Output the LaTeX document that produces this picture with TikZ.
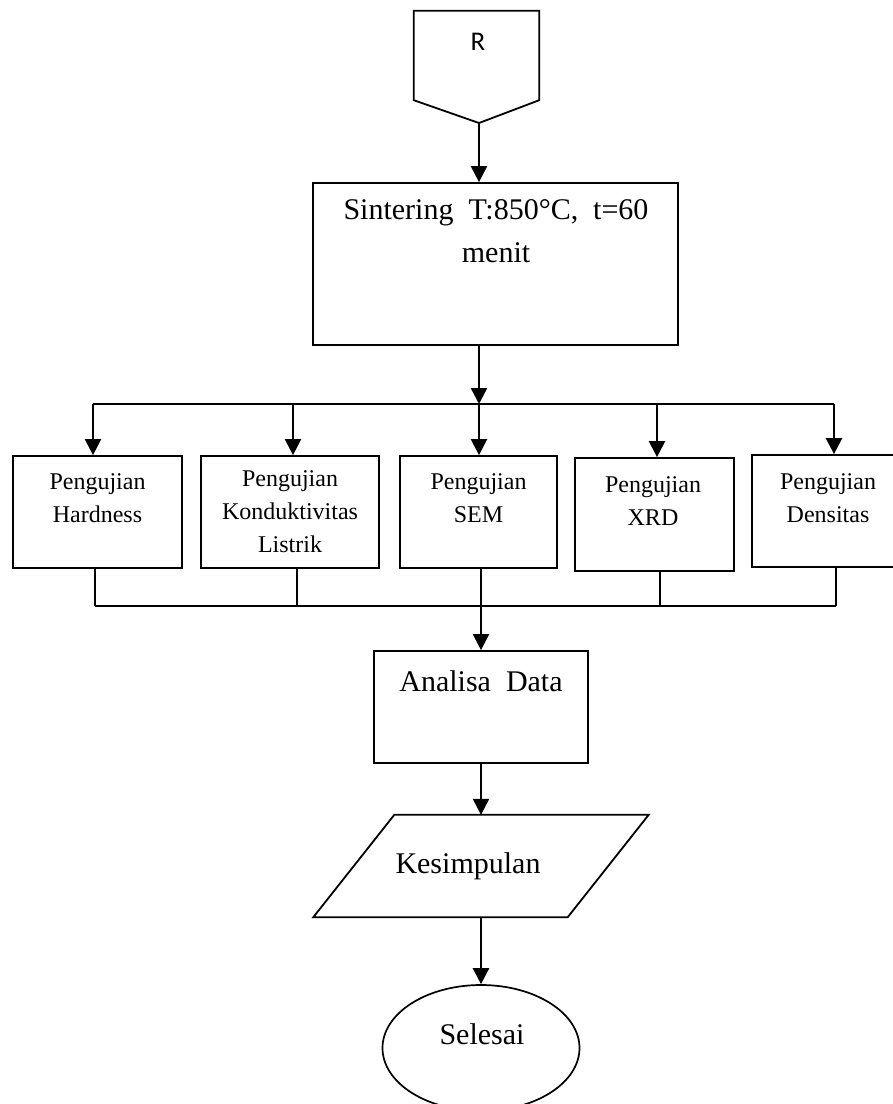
\documentclass[tikz,border=0pt]{standalone}
\usepackage{fontspec}
\setmainfont{Liberation Serif}
\newfontfamily\calibri{Carlito}
\usetikzlibrary{arrows.meta,shapes.geometric}

\begin{document}
\begin{tikzpicture}[x=1pt,y=-1pt,
        box/.style={draw,line width=1.8pt,inner sep=0pt},
        txt/.style={inner sep=0pt,align=center,font=\fontsize{30}{43}\selectfont},
        uji/.style={inner sep=0pt,align=center,font=\fontsize{24}{33}\selectfont},
        arr/.style={line width=2.4pt,-{Triangle[width=16pt,length=16pt]}},
        linkline/.style={line width=1.7pt}]
    \useasboundingbox (0,0) rectangle (893,1104);
    % off-page connector R
    \node[minimum width=125pt,minimum height=89pt,inner sep=0pt] (r) at (476.5,55.5) {};
    \coordinate (rtip) at (479,123);
    \draw[line width=1.8pt] (r.north west) -- (r.north east) -- (r.south east) -- (rtip) -- (r.south west) -- cycle;
    \node[inner sep=0pt,anchor=base,font=\calibri\fontsize{27}{30}\selectfont] (rtxt) at (478,50) {R};
    % sintering
    \node[box,minimum width=365pt,minimum height=162pt] (sint) at (495.5,264) {};
    \node[txt] (sinttxt) at (496,231.5) {Sintering\ \ T:850°C,\ \ t=60\\menit};
    \draw[arr] (rtip) -- (rtip |- sint.north);
    % pengujian
    \node[box,minimum width=169pt,minimum height=112pt] (hard) at (97.5,512) {};
    \node[box,minimum width=178pt,minimum height=112pt] (kond) at (290,512) {};
    \node[box,minimum width=157pt,minimum height=112pt] (sem) at (478.5,512) {};
    \node[box,minimum width=159pt,minimum height=113pt] (xrd) at (654.5,514.5) {};
    \node[box,minimum width=152pt,minimum height=112pt] (dens) at (828,511) {};
    \node[uji] (hardtxt) at (97.5,498.5) {Pengujian\\Hardness};
    \node[uji] (kondtxt) at (290,512) {Pengujian\\Konduktivitas\\Listrik};
    \node[uji] (semtxt) at (478.5,498.5) {Pengujian\\SEM};
    \node[uji] (xrdtxt) at (653,501.5) {Pengujian\\XRD};
    \node[uji] (denstxt) at (828,498.5) {Pengujian\\Densitas};
    \coordinate (split) at (479,404);
    \draw[arr] (split |- sint.south) -- (split);
    \foreach \n/\a/\b in {hard/93/95,kond/293/297,sem/479/481,xrd/657/660,dens/834/836} {
        \coordinate (top-\n) at (\a,404);
        \coordinate (bot-\n) at (\b,606);
        \draw[arr] (top-\n) -- (top-\n |- \n.north);
        \draw[linkline] (bot-\n |- \n.south) -- (bot-\n);
    }
    \draw[line width=2.2pt] (top-hard) -- (top-dens);
    \draw[linkline] (bot-hard) -- (bot-dens);
    % analisa
    \node[box,minimum width=214pt,minimum height=112pt] (anal) at (481,707) {};
    \node[txt,anchor=base] (analtxt) at (481,691) {Analisa\ \ Data};
    \draw[arr] (bot-sem) -- (bot-sem |- anal.north);
    % kesimpulan (parallelogram)
    \node[inner sep=0pt,minimum width=254pt,minimum height=102pt] (kes) at (481,866) {};
    \draw[line width=1.8pt] ([xshift=40.5pt]kes.north west) -- ([xshift=40.5pt]kes.north east)
        -- ([xshift=-40.5pt]kes.south east) -- ([xshift=-40.5pt]kes.south west) -- cycle;
    \node[txt,anchor=base] (kestxt) at (468,873) {Kesimpulan};
    \draw[arr] (anal.south) -- (kes.north);
    % selesai
    \node[draw,ellipse,line width=1.7pt,inner sep=0pt,minimum width=197pt,minimum height=126pt] (sel) at (481,1048) {};
    \node[txt,anchor=base] (seltxt) at (482,1044) {Selesai};
    \draw[arr] (kes.south) -- (sel.north);
\end{tikzpicture}
\end{document}
